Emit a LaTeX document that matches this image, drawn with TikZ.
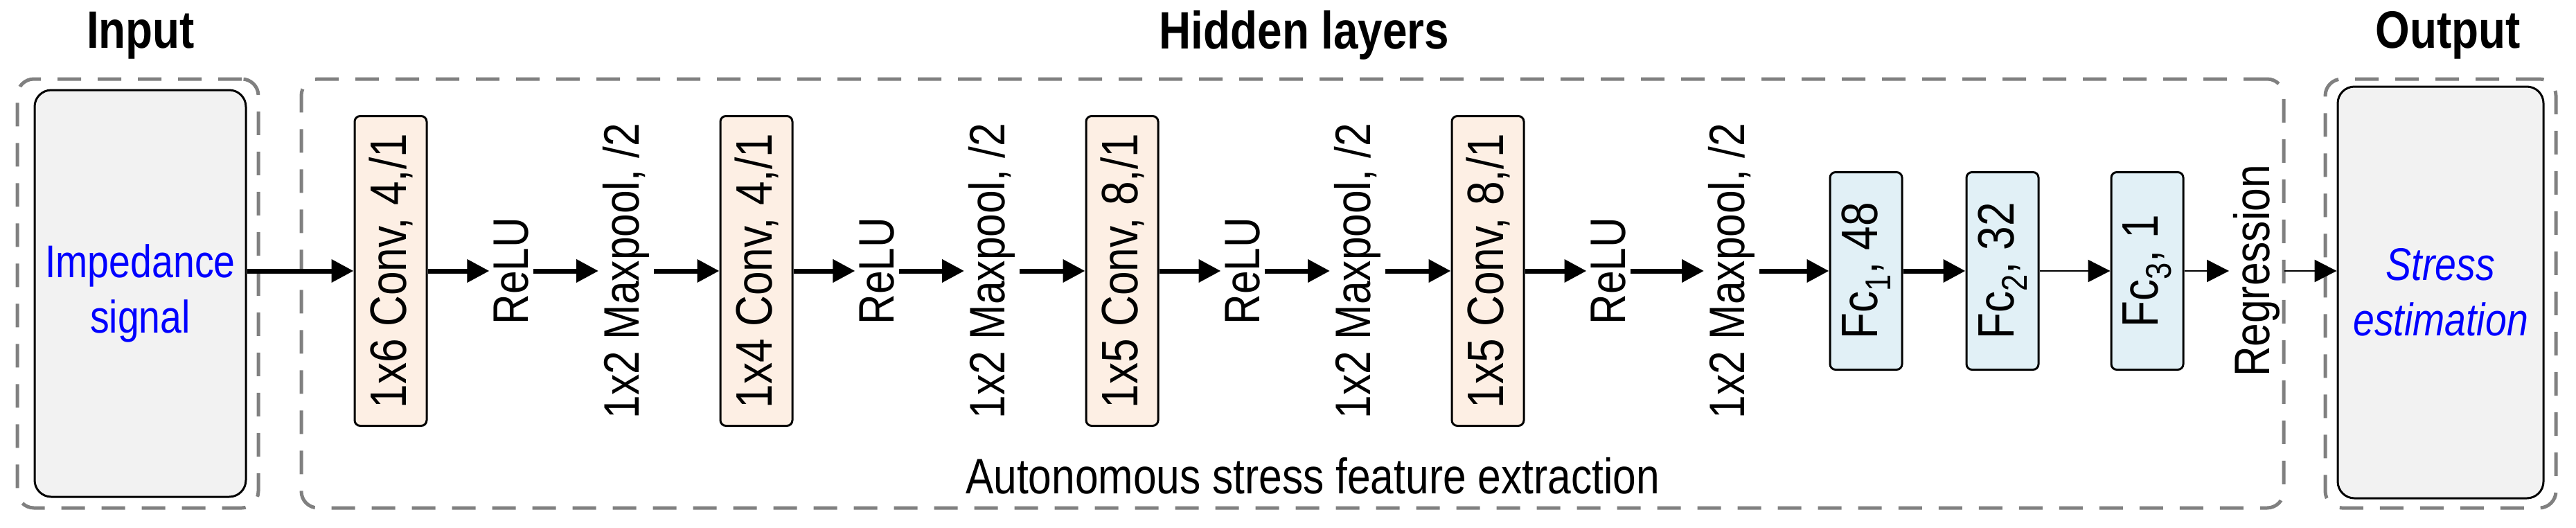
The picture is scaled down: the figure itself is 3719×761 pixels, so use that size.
\documentclass[tikz,border=0pt]{standalone}
\usepackage{fontspec}
\setmainfont{Liberation Sans}
\usetikzlibrary{arrows.meta}
\definecolor{convfill}{HTML}{FDEFE4}
\definecolor{fcfill}{HTML}{E1F0F6}
\definecolor{boxfill}{HTML}{F2F2F2}
\definecolor{dash}{HTML}{808080}
\newcommand{\Tx}[1]{\scalebox{0.84}[1]{#1}}
\tikzset{
  group/.style={draw=dash,line width=2.5pt,dash pattern=on 17pt off 12pt,rounded corners=12pt},
  io/.style={draw,line width=1.5pt,fill=boxfill,rounded corners=12pt},
  layer/.style={draw,line width=1.5pt,rounded corners=4pt,rotate=90,inner sep=0pt,font=\fontsize{37pt}{40pt}\selectfont},
  conv/.style={layer,fill=convfill,minimum width=223.5pt,minimum height=52pt},
  fc/.style={layer,fill=fcfill,minimum width=142.5pt,minimum height=52pt},
  lbl/.style={rotate=90,inner sep=3pt,font=\fontsize{36pt}{40pt}\selectfont},
  title/.style={font=\bfseries\fontsize{38pt}{40pt}\selectfont},
  arr/.style={line width=3.5pt,-{Triangle[length=16pt,width=16pt]}},
  tarr/.style={line width=1.2pt,-{Triangle[length=16pt,width=16pt]}}
}
\begin{document}
\begin{tikzpicture}[x=0.5pt,y=-0.5pt]
\useasboundingbox (0,0) rectangle (3719,761);
% groups
\node[group,minimum width=174pt,minimum height=309.5pt] (gin) at (199,423.5) {};
\node[group,minimum width=1431pt,minimum height=309.5pt] (ghid) at (1866,423.5) {};
\node[group,minimum width=166.5pt,minimum height=309.5pt] (gout) at (3523.5,423.5) {};
\node[title] (tin) at (203,51) {\Tx{Input}};
\node[title] (thid) at (1883,51) {\Tx{Hidden layers}};
\node[title] (tout) at (3534,51) {\Tx{Output}};
% io boxes
\node[io,minimum width=152.5pt,minimum height=293.5pt,align=center,text=blue,font=\fontsize{33pt}{40pt}\selectfont] (in) at (202.5,423.5) {\Tx{Impedance}\\\Tx{signal}};
\node[io,minimum width=148.5pt,minimum height=297pt,align=center,text=blue,font=\itshape\fontsize{33pt}{40pt}\selectfont] (out) at (3523.5,422) {\Tx{Stress}\\\Tx{estimation}};
% layers
\node[conv] (c1) at (564,391) {\Tx{1x6 Conv, 4,/1}};
\node[lbl] (r1) at (738,391) {\Tx{ReLU}};
\node[lbl] (m1) at (904,391) {\Tx{1x2 Maxpool, /2}};
\node[conv] (c2) at (1092,391) {\Tx{1x4 Conv, 4,/1}};
\node[lbl] (r2) at (1266,391) {\Tx{ReLU}};
\node[lbl] (m2) at (1432,391) {\Tx{1x2 Maxpool, /2}};
\node[conv] (c3) at (1620,391) {\Tx{1x5 Conv, 8,/1}};
\node[lbl] (r3) at (1794,391) {\Tx{ReLU}};
\node[lbl] (m3) at (1960,391) {\Tx{1x2 Maxpool, /2}};
\node[conv] (c4) at (2148,391) {\Tx{1x5 Conv, 8,/1}};
\node[lbl] (r4) at (2322,391) {\Tx{ReLU}};
\node[lbl] (m4) at (2500,391) {\Tx{1x2 Maxpool, /2}};
\node[fc] (f1) at (2694,391) {\Tx{Fc\textsubscript{1}, 48}};
\node[fc] (f2) at (2891,391) {\Tx{Fc\textsubscript{2}, 32}};
\node[fc] (f3) at (3100,391) {\Tx{Fc\textsubscript{3}, 1}};
\node[lbl] (reg) at (3258,391) {\Tx{Regression}};
\node[font=\fontsize{36pt}{40pt}\selectfont] (cap) at (1895,687) {\Tx{Autonomous stress feature extraction}};
% arrows
\draw[arr] (in.east |- c1.center) -- (c1);
\draw[arr] (c1) -- (r1);
\draw[arr] (r1) -- (m1);
\draw[arr] (m1) -- (c2);
\draw[arr] (c2) -- (r2);
\draw[arr] (r2) -- (m2);
\draw[arr] (m2) -- (c3);
\draw[arr] (c3) -- (r3);
\draw[arr] (r3) -- (m3);
\draw[arr] (m3) -- (c4);
\draw[arr] (c4) -- (r4);
\draw[arr] (r4) -- (m4);
\draw[arr] (m4) -- (f1);
\draw[arr] (f1) -- (f2);
\draw[tarr] (f2) -- (f3);
\draw[tarr] (f3) -- (reg);
\draw[tarr] (reg) -- (reg -| out.west);
\end{tikzpicture}
\end{document}
